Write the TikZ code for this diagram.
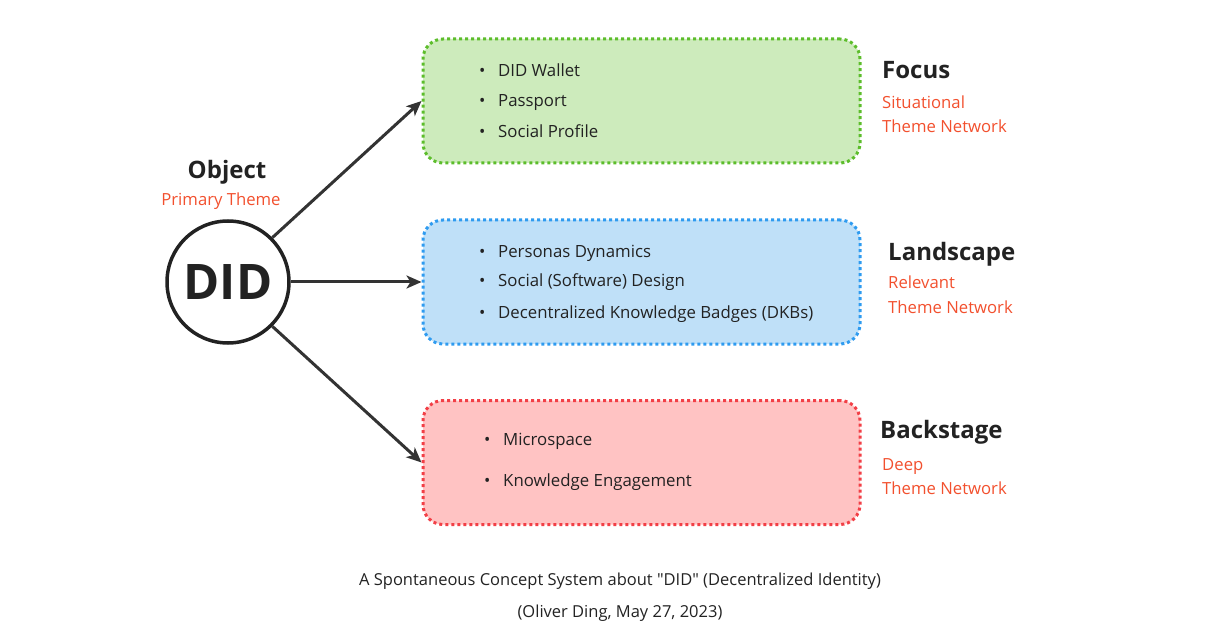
\documentclass[tikz,border=0pt]{standalone}
\usepackage{fontspec}
\setmainfont{Open Sans}[Ligatures=TeXOff]
\usepackage{tikz}
\usetikzlibrary{arrows.meta}
\usepackage{xcolor}
\definecolor{ink}{HTML}{222222}
\definecolor{arr}{HTML}{333333}
\definecolor{note}{HTML}{F2502E}
\definecolor{gfill}{HTML}{CDEBBC}
\definecolor{gline}{HTML}{5CBD2B}
\definecolor{bfill}{HTML}{BFE0F8}
\definecolor{bline}{HTML}{2E9BF0}
\definecolor{rfill}{HTML}{FFC3C3}
\definecolor{rline}{HTML}{F23F46}

\tikzset{
  themebox/.style={draw, rounded corners=20pt, line width=3pt, dash pattern=on 3pt off 3pt,
    minimum width=437pt, minimum height=124pt, inner sep=0pt},
  item/.style={anchor=base west, text=ink, font=\fontsize{16.8}{20}\selectfont, inner sep=0pt},
  head/.style={anchor=base west, text=ink, font=\fontsize{24}{28}\selectfont\bfseries, inner sep=0pt},
  sub/.style={anchor=base west, text=note, font=\fontsize{16.7}{20}\selectfont, inner sep=0pt},
  link/.style={draw=arr, line width=3pt, -{Stealth[length=15pt,width=13pt,inset=4pt]}},
}
\newcommand{\bul}{\makebox[19pt][l]{\textbullet}}

\begin{document}
\begin{tikzpicture}[x=1pt,y=-1pt]
\useasboundingbox (0,0) rectangle (1208,639);
\node [circle, draw=ink, line width=3.5pt, minimum size=122pt, inner sep=0pt, text=ink,
  font=\fontsize{49}{52}\selectfont\bfseries] (did) at (228,282) {DID};
\node [anchor=base, text=ink, font=\fontsize{24}{28}\selectfont\bfseries, inner sep=0pt] (object) at (227,179) {Object};
\node [anchor=base, text=note, font=\fontsize{16.7}{20}\selectfont, inner sep=0pt] (primary) at (221,206) {Primary Theme};

\node [themebox, fill=gfill, draw=gline] (focus) at (641.5,101) {};
\node [themebox, fill=bfill, draw=bline] (landscape) at (641.5,282) {};
\node [themebox, fill=rfill, draw=rline] (backstage) at (641.5,462.5) {};

% items
\node [item] (f1) at (479,77) {\bul DID Wallet};
\node [item] (f2) at (479,107) {\bul Passport};
\node [item] (f3) at (479,138) {\bul Social Profile};
\node [item] (l1) at (479,258) {\bul Personas Dynamics};
\node [item] (l2) at (479,287) {\bul Social (Software) Design};
\node [item] (l3) at (479,318) {\bul Decentralized Knowledge Badges (DKBs)};
\node [item] (b1) at (484,445) {\bul Microspace};
\node [item] (b2) at (484,486) {\bul Knowledge Engagement};

% labels
\node [head] (fh) at (882,79) {Focus};
\node [sub] (fs1) at (882,109) {Situational};
\node [sub] (fs2) at (882,133) {Theme Network};
\node [head] (lh) at (888,261) {Landscape};
\node [sub] (ls1) at (888,289) {Relevant};
\node [sub] (ls2) at (888,313) {Theme Network};
\node [head] (bh) at (880,438) {Backstage};
\node [sub] (bs1) at (882,470) {Deep};
\node [sub] (bs2) at (882,494) {Theme Network};

\draw [link] (did.45) -- (focus.west);
\draw [link] (did) -- (landscape);
\draw [link] (did.-45) -- (backstage.west);

\node [anchor=base, text=ink, font=\fontsize{16.5}{20}\selectfont, inner sep=0pt] (cap1) at (620,585)
  {A Spontaneous Concept System about "DID" (Decentralized Identity)};
\node [anchor=base, text=ink, font=\fontsize{16.5}{20}\selectfont, inner sep=0pt] (cap2) at (620,617)
  {(Oliver Ding, May 27, 2023)};
\end{tikzpicture}
\end{document}
